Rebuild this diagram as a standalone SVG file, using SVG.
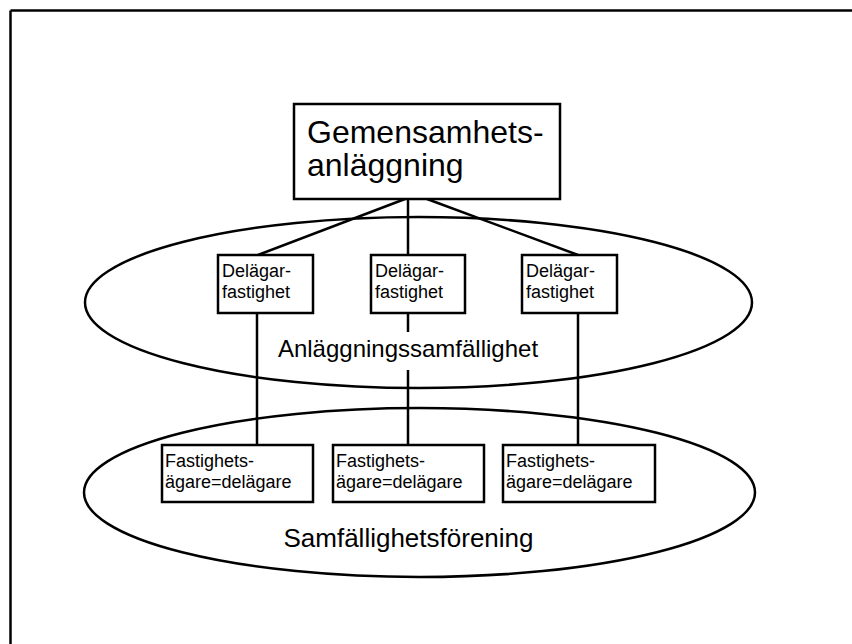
<svg xmlns="http://www.w3.org/2000/svg" width="852" height="644" viewBox="0 0 852 644">
<style>
.box{fill:#fff;stroke:#000;stroke-width:2.5}
.ell{fill:none;stroke:#000;stroke-width:2.5}
.ln{stroke:#000;stroke-width:2.5;fill:none}
text{font-family:"Liberation Sans",Arial,sans-serif;fill:#000}
.big{font-size:32px}
.sm{font-size:18px}
.lbl{font-size:24px;text-anchor:middle}
</style>
<rect width="852" height="644" fill="#fff"/>
<g id="frame">
<line class="ln" x1="10.5" y1="10.5" x2="852" y2="10.5"/>
<line class="ln" x1="10.5" y1="10.5" x2="10.5" y2="644"/>
</g>
<g id="ellipse-anlaggningssamfallighet">
<ellipse class="ell" cx="418.5" cy="302.5" rx="333.5" ry="85.5"/>
</g>
<g id="ellipse-samfallighetsforening">
<ellipse class="ell" cx="419.5" cy="492.5" rx="335.5" ry="84.5"/>
</g>
<g id="connectors">
<line class="ln" x1="405" y1="199" x2="258" y2="255"/>
<line class="ln" x1="408" y1="199" x2="408" y2="255"/>
<line class="ln" x1="427" y1="199" x2="578" y2="255"/>
<line class="ln" x1="257" y1="313" x2="257" y2="445"/>
<line class="ln" x1="408" y1="313" x2="408" y2="445"/>
<line class="ln" x1="578" y1="313" x2="578" y2="445"/>
</g>
<g id="label-anlaggningssamfallighet">
<rect x="278" y="332" width="260" height="38" fill="#fff"/>
<text class="lbl" x="408" y="357">Anläggningssamfällighet</text>
</g>
<g id="label-samfallighetsforening">
<text class="lbl" x="408.5" y="547" style="font-size:26px">Samfällighetsförening</text>
</g>
<g id="gemensamhetsanlaggning">
<rect class="box" x="294" y="104" width="266" height="95"/>
<text class="big" x="307" y="143">Gemensamhets-</text>
<text class="big" x="307" y="176">anläggning</text>
</g>
<g id="delagarfastighet-1">
<rect class="box" x="218" y="255" width="95" height="58"/>
<text class="sm" x="222" y="277">Delägar-</text>
<text class="sm" x="222" y="298">fastighet</text>
</g>
<g id="delagarfastighet-2">
<rect class="box" x="371" y="255" width="94" height="58"/>
<text class="sm" x="375" y="277">Delägar-</text>
<text class="sm" x="375" y="298">fastighet</text>
</g>
<g id="delagarfastighet-3">
<rect class="box" x="522" y="255" width="95" height="58"/>
<text class="sm" x="526" y="277">Delägar-</text>
<text class="sm" x="526" y="298">fastighet</text>
</g>
<g id="fastighetsagare-1">
<rect class="box" x="162" y="445" width="151" height="57"/>
<text class="sm" x="165" y="467">Fastighets-</text>
<text class="sm" x="165" y="488">ägare=delägare</text>
</g>
<g id="fastighetsagare-2">
<rect class="box" x="333" y="445" width="151" height="57"/>
<text class="sm" x="336" y="467">Fastighets-</text>
<text class="sm" x="336" y="488">ägare=delägare</text>
</g>
<g id="fastighetsagare-3">
<rect class="box" x="503" y="445" width="152" height="57"/>
<text class="sm" x="506" y="467">Fastighets-</text>
<text class="sm" x="506" y="488">ägare=delägare</text>
</g>
</svg>
